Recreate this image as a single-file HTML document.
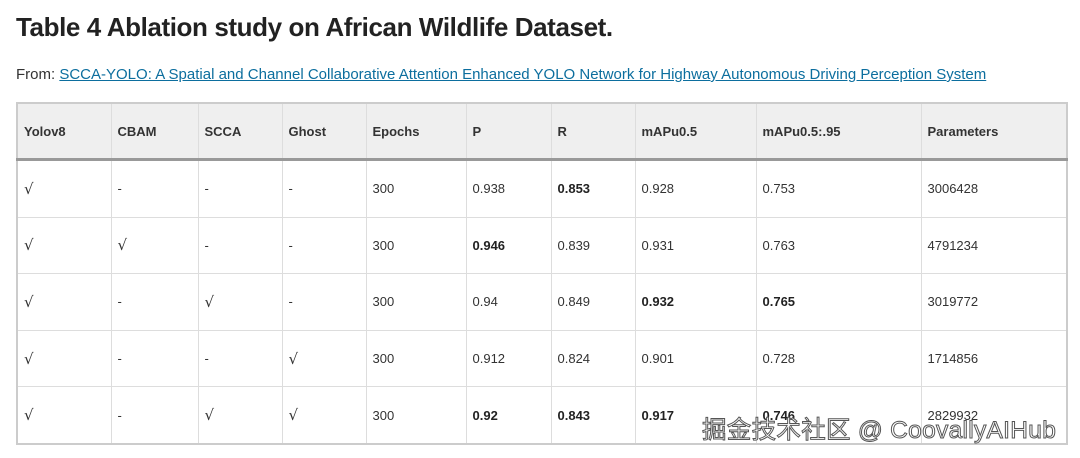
<!DOCTYPE html>
<html><head><meta charset="utf-8"><style>
body{margin:0;background:#fff;width:1080px;height:458px;overflow:hidden;font-family:"Liberation Sans",Arial,sans-serif;color:#222;position:relative}
h1{position:absolute;left:16px;top:12px;margin:0;font-size:26px;font-weight:bold;letter-spacing:-0.4px;color:#222}
.from{position:absolute;left:16px;top:66px;font-size:15px;color:#333}
.from a{color:#0c6e9e;text-decoration:underline}
table{position:absolute;left:16px;top:102px;border-collapse:collapse;width:1052px;font-size:13px;border:2px solid #ccc}
td,th{border:1px solid #ddd;text-align:left;padding:0 0 0 6px;color:#333}
th{background:#efefef;height:54px;font-weight:bold;border-bottom:3px solid #999;font-size:13px}
td{height:55.6px}
b{color:#222}
.ck{font-family:"DejaVu Sans",sans-serif;font-size:15px}
.wm{position:absolute;left:702px;top:411px;font-size:24.5px;color:#fff;font-family:"Liberation Sans","Noto Sans CJK SC",sans-serif;-webkit-text-stroke:1px #555;letter-spacing:0.3px}
</style></head><body>
<h1>Table 4 Ablation study on African Wildlife Dataset.</h1>
<div class="from">From: <a>SCCA-YOLO: A Spatial and Channel Collaborative Attention Enhanced YOLO Network for Highway Autonomous Driving Perception System</a></div>
<table>
<colgroup><col style="width:94px"><col style="width:87px"><col style="width:84px"><col style="width:84px"><col style="width:100px"><col style="width:85px"><col style="width:84px"><col style="width:121px"><col style="width:165px"><col></colgroup>
<tr><th>Yolov8</th><th>CBAM</th><th>SCCA</th><th>Ghost</th><th>Epochs</th><th>P</th><th>R</th><th>mAPu0.5</th><th>mAPu0.5:.95</th><th>Parameters</th></tr>
<tr><td class="ck">√</td><td>-</td><td>-</td><td>-</td><td>300</td><td>0.938</td><td><b>0.853</b></td><td>0.928</td><td>0.753</td><td>3006428</td></tr>
<tr><td class="ck">√</td><td class="ck">√</td><td>-</td><td>-</td><td>300</td><td><b>0.946</b></td><td>0.839</td><td>0.931</td><td>0.763</td><td>4791234</td></tr>
<tr><td class="ck">√</td><td>-</td><td class="ck">√</td><td>-</td><td>300</td><td>0.94</td><td>0.849</td><td><b>0.932</b></td><td><b>0.765</b></td><td>3019772</td></tr>
<tr><td class="ck">√</td><td>-</td><td>-</td><td class="ck">√</td><td>300</td><td>0.912</td><td>0.824</td><td>0.901</td><td>0.728</td><td>1714856</td></tr>
<tr><td class="ck">√</td><td>-</td><td class="ck">√</td><td class="ck">√</td><td>300</td><td><b>0.92</b></td><td><b>0.843</b></td><td><b>0.917</b></td><td><b>0.746</b></td><td>2829932</td></tr>
</table>
<div class="wm">掘金技术社区 @ CoovallyAIHub</div>
</body></html>
